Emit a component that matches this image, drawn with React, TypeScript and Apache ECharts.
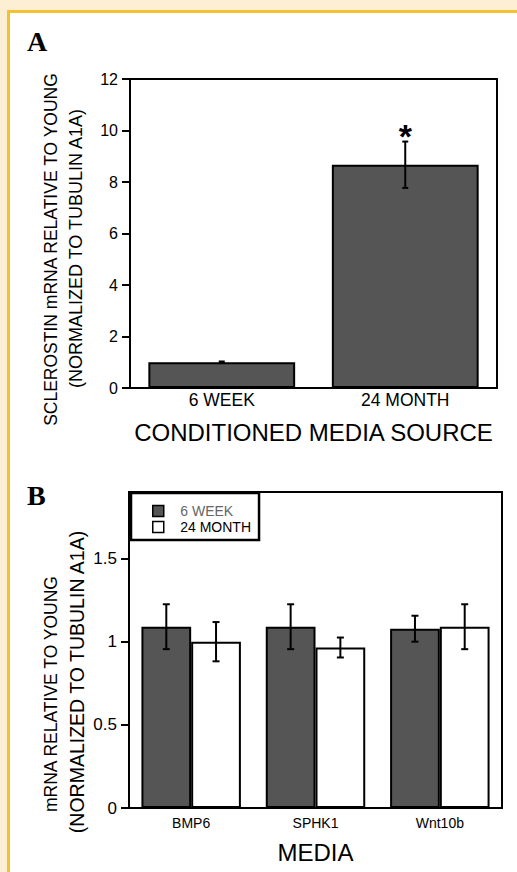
import React, { useEffect, useRef } from 'react';
import * as echarts from 'echarts';

// ---------- Panel A data ----------
const catsA = ['6 WEEK', '24 MONTH'];
const valsA = [1.0, 8.67];
const errA = [0.03, 0.9];
const sigA = ['', '*'];
const ticksA = [0, 2, 4, 6, 8, 10, 12];

// ---------- Panel B data ----------
const catsB = ['BMP6', 'SPHK1', 'Wnt10b'];
const seriesNamesB = ['6 WEEK', '24 MONTH'];
const week6B = [1.09, 1.09, 1.078];
const week6ErrB = [0.135, 0.135, 0.078];
const month24B = [1.0, 0.965, 1.09];
const month24ErrB = [0.118, 0.06, 0.135];
const ticksB = [0, 0.5, 1, 1.5];

const SANS = '"Liberation Sans", Arial, Helvetica, sans-serif';
const SERIF = '"Liberation Serif", "Times New Roman", serif';

function errRender(offsetFrac: number, capHalf: number, sig?: string[]) {
  return (params: any, api: any) => {
    const i = api.value(0);
    const lo = api.coord([i, api.value(1)]);
    const hi = api.coord([i, api.value(2)]);
    const band = api.size([1, 0])[0];
    const x = lo[0] + offsetFrac * band;
    const style = { stroke: '#000', lineWidth: 2 };
    const children: any[] = [
      { type: 'line', shape: { x1: x, y1: lo[1], x2: x, y2: hi[1] }, style },
      { type: 'line', shape: { x1: x - capHalf, y1: hi[1], x2: x + capHalf, y2: hi[1] }, style },
      { type: 'line', shape: { x1: x - capHalf, y1: lo[1], x2: x + capHalf, y2: lo[1] }, style },
    ];
    if (sig && sig[i]) {
      children.push({
        type: 'text',
        x,
        y: hi[1] - 6,
        style: {
          text: sig[i],
          align: 'center',
          verticalAlign: 'middle',
          font: `bold 34px ${SANS}`,
          fill: '#000',
        },
      });
    }
    return { type: 'group', children };
  };
}

const axisLineStyle = { show: true, lineStyle: { color: '#000', width: 2 } };

export default function App() {
  const ref = useRef<HTMLDivElement>(null);

  useEffect(() => {
    if (!ref.current) return;
    const chart = echarts.init(ref.current, null, { renderer: 'svg' });
    const option: any = {
      animation: false,
      backgroundColor: 'transparent',
      textStyle: { fontFamily: SANS, color: '#000' },
      grid: [
        { left: 130, top: 79, width: 367, height: 309, show: true, borderColor: '#000', borderWidth: 2, backgroundColor: 'transparent' },
        { left: 129, top: 492, width: 373, height: 316, show: true, borderColor: '#000', borderWidth: 2, backgroundColor: 'transparent' },
      ],
      legend: {
        data: [
          { name: seriesNamesB[0], textStyle: { color: '#666' } },
          { name: seriesNamesB[1] },
        ],
        orient: 'vertical',
        left: 131,
        top: 493,
        padding: [11, 8, 6, 21],
        itemGap: 2,
        itemWidth: 34,
        itemHeight: 11,
        icon: 'path://M0,0H10V10H0Z',
        itemStyle: { borderColor: '#000', borderWidth: 1.5 },
        borderColor: '#000',
        borderWidth: 2.5,
        backgroundColor: '#fff',
        selectedMode: false,
        textStyle: { fontSize: 14, fontFamily: SANS, color: '#000' },
      },
      xAxis: [
        {
          type: 'category',
          gridIndex: 0,
          data: catsA,
          axisLine: axisLineStyle,
          axisTick: { show: false },
          axisLabel: { fontSize: 17.5, color: '#000', margin: 3, fontFamily: SANS },
          name: 'CONDITIONED MEDIA SOURCE',
          nameLocation: 'middle',
          nameGap: 32,
          nameTextStyle: { fontSize: 24, color: '#000', fontFamily: SANS },
        },
        {
          type: 'category',
          gridIndex: 1,
          data: catsB,
          axisLine: axisLineStyle,
          axisTick: { show: false },
          axisLabel: { fontSize: 14, color: '#000', margin: 8, fontFamily: SANS },
          name: 'MEDIA',
          nameLocation: 'middle',
          nameGap: 32,
          nameTextStyle: { fontSize: 24, color: '#000', fontFamily: SANS },
        },
      ],
      yAxis: [
        {
          type: 'value',
          gridIndex: 0,
          min: ticksA[0],
          max: ticksA[ticksA.length - 1],
          interval: 2,
          axisLine: axisLineStyle,
          axisTick: { show: true, length: 8, lineStyle: { color: '#000', width: 2 } },
          axisLabel: { fontSize: 16, color: '#000', margin: 12, fontFamily: SANS },
          splitLine: { show: false },
        },
        {
          type: 'value',
          gridIndex: 1,
          min: 0,
          max: 1.9,
          axisLine: axisLineStyle,
          axisTick: { show: true, length: 8, lineStyle: { color: '#000', width: 2 }, customValues: ticksB },
          axisLabel: { fontSize: 17, color: '#000', margin: 12, fontFamily: SANS, customValues: ticksB },
          splitLine: { show: false },
        },
      ],
      graphic: [
        { type: 'text', x: 27, y: 41, style: { text: 'A', font: `bold 28px ${SERIF}`, fill: '#000', verticalAlign: 'middle', textVerticalAlign: 'middle' } },
        { type: 'text', x: 27, y: 495, style: { text: 'B', font: `bold 28px ${SERIF}`, fill: '#000', verticalAlign: 'middle', textVerticalAlign: 'middle' } },
        { type: 'text', x: 51, y: 249.5, rotation: Math.PI / 2, style: { text: 'SCLEROSTIN mRNA RELATIVE TO YOUNG', font: `17.5px ${SANS}`, fill: '#000', align: 'center', textAlign: 'center', verticalAlign: 'middle', textVerticalAlign: 'middle' } },
        { type: 'text', x: 75.5, y: 248.5, rotation: Math.PI / 2, style: { text: '(NORMALIZED TO TUBULIN A1A)', font: `18px ${SANS}`, fill: '#000', align: 'center', textAlign: 'center', verticalAlign: 'middle', textVerticalAlign: 'middle' } },
        { type: 'text', x: 51, y: 694, rotation: Math.PI / 2, style: { text: 'mRNA RELATIVE TO YOUNG', font: `17.5px ${SANS}`, fill: '#000', align: 'center', textAlign: 'center', verticalAlign: 'middle', textVerticalAlign: 'middle' } },
        { type: 'text', x: 76.5, y: 682, rotation: Math.PI / 2, style: { text: '(NORMALIZED TO TUBULIN A1A)', font: `19.5px ${SANS}`, fill: '#000', align: 'center', textAlign: 'center', verticalAlign: 'middle', textVerticalAlign: 'middle' } },
      ],
      series: [
        {
          name: 'Sclerostin',
          type: 'bar',
          xAxisIndex: 0,
          yAxisIndex: 0,
          data: valsA,
          barWidth: '80%',
          itemStyle: { color: '#555555', borderColor: '#000', borderWidth: 2 },
        },
        {
          name: 'Sclerostin error',
          type: 'custom',
          xAxisIndex: 0,
          yAxisIndex: 0,
          z: 5,
          clip: false,
          renderItem: errRender(0, 3, sigA),
          data: catsA.map((_, i) => [i, valsA[i] - errA[i], valsA[i] + errA[i]]),
        },
        {
          name: seriesNamesB[0],
          type: 'bar',
          xAxisIndex: 1,
          yAxisIndex: 1,
          data: week6B,
          barWidth: '40%',
          barGap: '0%',
          itemStyle: { color: '#555555', borderColor: '#000', borderWidth: 2 },
        },
        {
          name: seriesNamesB[1],
          type: 'bar',
          xAxisIndex: 1,
          yAxisIndex: 1,
          data: month24B,
          barWidth: '40%',
          barGap: '0%',
          itemStyle: { color: '#ffffff', borderColor: '#000', borderWidth: 2 },
        },
        {
          name: 'err6',
          type: 'custom',
          xAxisIndex: 1,
          yAxisIndex: 1,
          z: 5,
          renderItem: errRender(-0.2, 3.5),
          data: catsB.map((_, i) => [i, week6B[i] - week6ErrB[i], week6B[i] + week6ErrB[i]]),
        },
        {
          name: 'err24',
          type: 'custom',
          xAxisIndex: 1,
          yAxisIndex: 1,
          z: 5,
          renderItem: errRender(0.2, 3.5),
          data: catsB.map((_, i) => [i, month24B[i] - month24ErrB[i], month24B[i] + month24ErrB[i]]),
        },
      ],
    };
    chart.setOption(option);
    return () => chart.dispose();
  }, []);

  return (
    <div style={{ position: 'absolute', left: 0, top: 0, width: 517, height: 872, background: '#fdefd4', overflow: 'hidden' }}>
      <div
        style={{
          position: 'absolute',
          left: 7,
          top: 10,
          right: 0,
          bottom: 0,
          background: '#ffffff',
          borderLeft: '3px solid #f3c22e',
          borderTop: '3px solid #f3c22e',
        }}
      />
      <div ref={ref} style={{ position: 'absolute', left: 0, top: 0, width: 517, height: 872 }} />
    </div>
  );
}
